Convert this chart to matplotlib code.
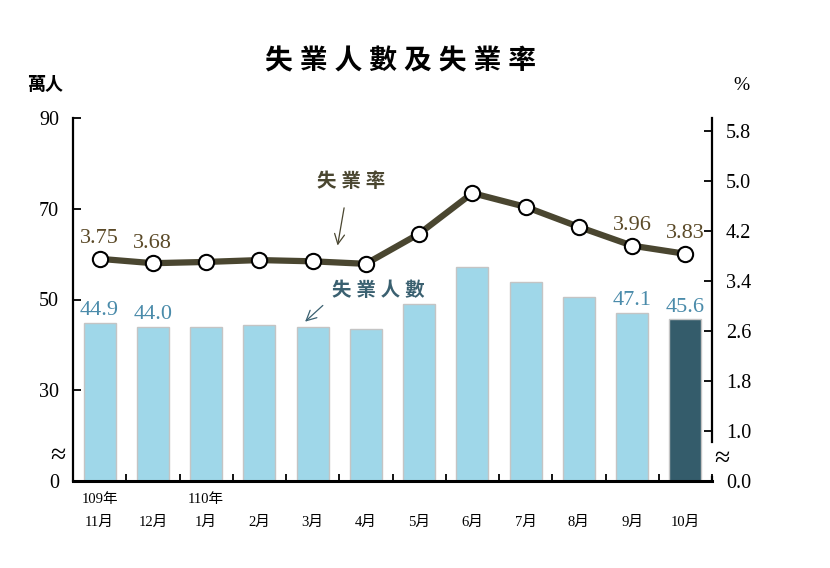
import numpy as np
import matplotlib
matplotlib.use("Agg")
import matplotlib.pyplot as plt

plt.rcParams['font.family'] = ['Liberation Serif', 'Noto Sans CJK TC']

months = ["11月", "12月", "1月", "2月", "3月", "4月", "5月", "6月", "7月", "8月", "9月", "10月"]
years = {0: "109年", 2: "110年"}
unemployed = [44.9, 44.0, 44.0, 44.4, 43.9, 43.5, 48.9, 57.2, 53.9, 50.6, 47.1, 45.6]
rate = [3.75, 3.68, 3.70, 3.73, 3.71, 3.67, 4.15, 4.80, 4.58, 4.26, 3.96, 3.83]
bar_label_idx = [0, 1, 10, 11]
rate_label_idx = [0, 1, 10, 11]

# left axis is broken: 10 stands for 0
base = 10
left_ticks = [10, 30, 50, 70, 90]
left_ticklabels = ["0", "30", "50", "70", "90"]
right_ticks = [0.2, 1.0, 1.8, 2.6, 3.4, 4.2, 5.0, 5.8]
right_ticklabels = ["0.0", "1.0", "1.8", "2.6", "3.4", "4.2", "5.0", "5.8"]

bar_c = "#9FD7E9"
bar_last = "#345C6B"
line_c = "#4A4630"
lab_bar = "#4A8BAA"
lab_rate = "#5B4A28"

fig = plt.figure(figsize=(8.3, 5.68), dpi=100)
ax = fig.add_axes([73/830, 1-481/568, (712-73)/830, (481-118)/568])
ax2 = ax.twinx()

x = np.arange(len(months))
colors = [bar_c]*(len(months)-1) + [bar_last]
heights = [v - base for v in unemployed]
ax.bar(x, heights, bottom=base, width=0.6, color=colors, edgecolor="#C4C4C4", linewidth=1)

for i in bar_label_idx:
    ax.text(x[i], unemployed[i] + 0.6, f"{unemployed[i]:.1f}", ha="center", va="bottom",
            fontsize=16, color=lab_bar)

ax.set_xlim(-0.5, len(months) - 0.5)
ax.set_ylim(10, 90)
ax.set_yticks(left_ticks)
ax.set_yticklabels(left_ticklabels, fontsize=14.5)
ax.set_xticks(np.arange(len(months) + 1) - 0.5)
ax.set_xticklabels([])
ax.tick_params(axis="x", direction="in", length=5, width=1.3)
ax.tick_params(axis="y", direction="in", length=6, width=1.3, pad=10)
for sp in ["top", "right"]:
    ax.spines[sp].set_visible(False)
ax.spines["left"].set_linewidth(1.6)
ax.spines["bottom"].set_linewidth(2.2)

for i, m in enumerate(months):
    lab = (years[i] + "\n" if i in years else "\n") + m
    ax.text(x[i], 7.3, lab, ha="center", va="top", fontsize=10.5, linespacing=2.0)

ax2.plot(x, rate, color=line_c, lw=4.5, marker="o", ms=11, mfc="white",
         mec="black", mew=1.5, zorder=5)
for i in rate_label_idx:
    ax2.text(x[i], rate[i] + 0.17, f"{rate[i]:.2f}", ha="center", va="bottom",
             fontsize=16, color=lab_rate)
ax2.set_ylim(0.2, 6.0)
ax2.set_yticks(right_ticks)
ax2.set_yticklabels(right_ticklabels, fontsize=14.5)
ax2.tick_params(axis="y", direction="in", length=6, width=1.3, pad=10)
for sp in ["top", "left", "bottom"]:
    ax2.spines[sp].set_visible(False)
ax2.spines["right"].set_linewidth(1.6)
ax2.spines["right"].set_bounds(0.82, 6.0)
ax2.plot([1, 1], [0, 0.012], transform=ax2.transAxes, color="black", lw=1.6, clip_on=False)

# axis break marks
ax.text(-0.012, 0.068, "≈", transform=ax.transAxes, ha="right", va="center", fontsize=20)
ax.text(1.003, 0.06, "≈", transform=ax.transAxes, ha="left", va="center", fontsize=20)

ax.annotate("", xy=(4.46, 61.3), xytext=(4.6, 70.8),
            arrowprops=dict(arrowstyle="->", color=line_c, lw=0.9, mutation_scale=18))
ax.text(4.72, 75.9, "失 業 率", ha="center", va="center", fontsize=14, fontweight="bold",
        color=line_c)
ax.annotate("", xy=(3.82, 44.7), xytext=(4.23, 49.1),
            arrowprops=dict(arrowstyle="->", color="#3A6070", lw=0.9, mutation_scale=18))
ax.text(5.23, 52.0, "失 業 人 數", ha="center", va="center", fontsize=14, fontweight="bold",
        color="#3A6070")

fig.text(400/830, 1-62/568, "失 業 人 數 及 失 業 率", ha="center", va="center",
         fontsize=20, fontweight="bold")
fig.text(45/830, 1-85/568, "萬人", ha="center", va="center", fontsize=13, fontweight="bold")
fig.text(741/830, 1-85/568, "%", ha="center", va="center", fontsize=14)

fig.savefig("out.png", dpi=100)
